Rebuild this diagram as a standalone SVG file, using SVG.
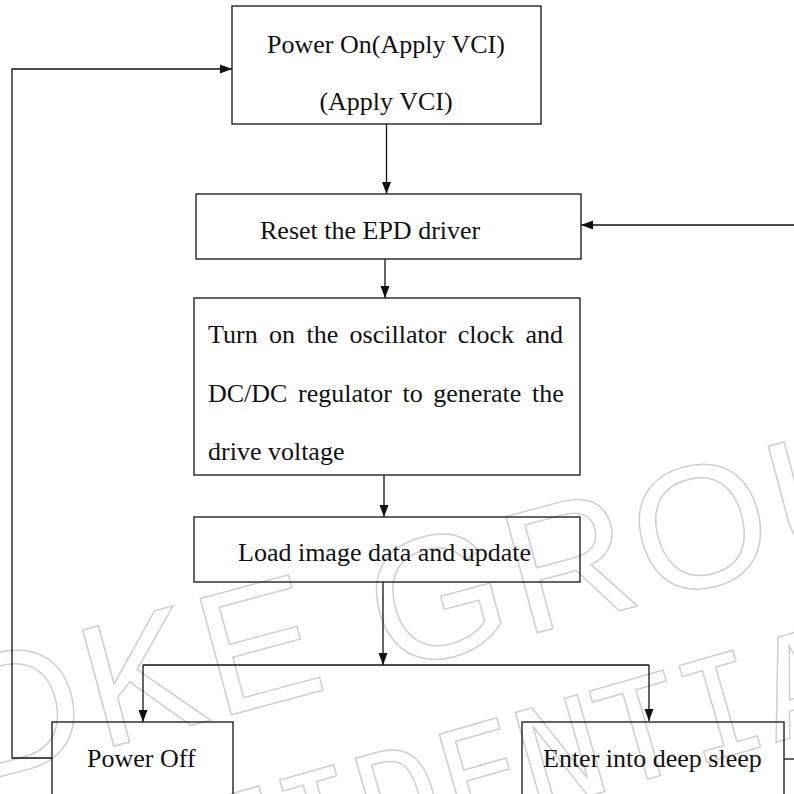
<svg xmlns="http://www.w3.org/2000/svg" width="794" height="794" viewBox="0 0 794 794">
<style>
.box{fill:none;stroke:#222;stroke-width:1.4}
.t{font-family:"Liberation Serif","Times New Roman",serif;font-size:26px;fill:#111}
.c{fill:none;stroke:#111;stroke-width:1.3}
.wm{fill:none;stroke:#cfcfcf;stroke-width:1.5}
</style>
<defs>
<marker id="ah" markerUnits="userSpaceOnUse" markerWidth="12" markerHeight="12" viewBox="0 0 12 12" refX="12" refY="6" orient="auto">
<path d="M0,1.5 L12,6 L0,10.5 Z" fill="#111"/>
</marker>
</defs>
<rect width="794" height="794" fill="#fff"/>
<g id="watermark">
<text class="wm" transform="translate(-27,784) rotate(-15)" font-family="Liberation Sans, Arial, sans-serif" font-size="175" letter-spacing="5">DKE GROUP</text>
<text class="wm" transform="translate(-25,972) rotate(-16)" font-family="DejaVu Sans Mono, monospace" font-size="138">CONFIDENTIAL</text>
</g>
<g id="connectors">
<path class="c" d="M52,758 H12 V69 H232" marker-end="url(#ah)"/>
<path class="c" d="M386.5,124 V194" marker-end="url(#ah)"/>
<path class="c" d="M794,225 H581" marker-end="url(#ah)"/>
<path class="c" d="M385,259 V298" marker-end="url(#ah)"/>
<path class="c" d="M384,475 V517" marker-end="url(#ah)"/>
<path class="c" d="M383,582 V665" marker-end="url(#ah)"/>
<path class="c" d="M143,665 H649"/>
<path class="c" d="M143,665 V722" marker-end="url(#ah)"/>
<path class="c" d="M649,665 V721" marker-end="url(#ah)"/>
<path class="c" d="M784,759 H794"/>
</g>
<g id="power-on">
<rect class="box" x="232" y="6" width="309" height="118"/>
<text class="t" x="386" y="53" text-anchor="middle">Power On(Apply VCI)</text>
<text class="t" x="386" y="110" text-anchor="middle">(Apply VCI)</text>
</g>
<g id="reset">
<rect class="box" x="196" y="194" width="385" height="65"/>
<text class="t" x="260" y="239">Reset the EPD driver</text>
</g>
<g id="turn-on">
<rect class="box" x="194" y="298" width="386" height="177"/>
<text class="t" x="208" y="343" word-spacing="4.9">Turn on the oscillator clock and</text>
<text class="t" x="208" y="402" word-spacing="4.1">DC/DC regulator to generate the</text>
<text class="t" x="208" y="460">drive voltage</text>
</g>
<g id="load">
<rect class="box" x="194" y="517" width="386" height="65"/>
<text class="t" x="238" y="561">Load image data and update</text>
</g>
<g id="power-off">
<rect class="box" x="52" y="722" width="181" height="90"/>
<text class="t" x="87" y="767">Power Off</text>
</g>
<g id="deep-sleep">
<rect class="box" x="522" y="722" width="262" height="90"/>
<text class="t" x="543" y="767">Enter into deep sleep</text>
</g>
</svg>
